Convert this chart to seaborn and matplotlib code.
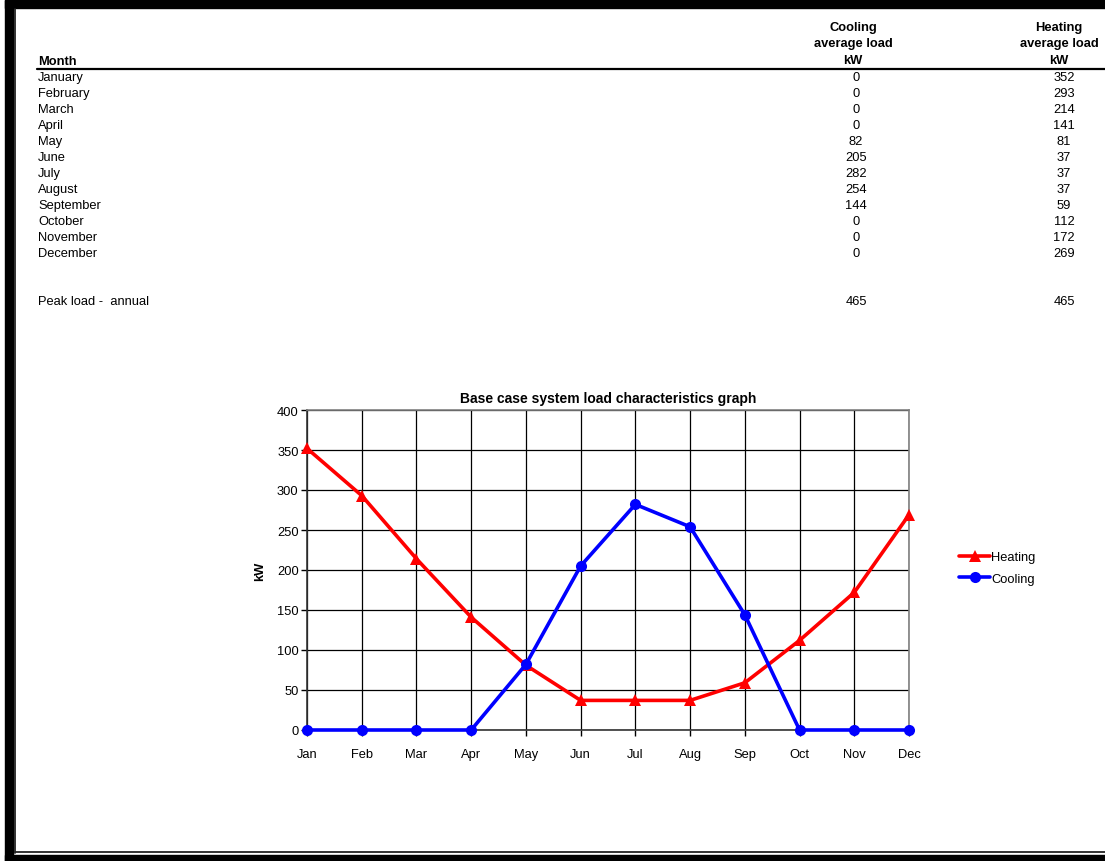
import matplotlib
matplotlib.use("Agg")
import matplotlib.pyplot as plt
from matplotlib.lines import Line2D
from matplotlib.patches import Rectangle
import seaborn as sns
import pandas as pd
import numpy as np

# Monthly load table
months_full = ["January", "February", "March", "April", "May", "June", "July",
               "August", "September", "October", "November", "December"]
months_short = ["Jan", "Feb", "Mar", "Apr", "May", "Jun", "Jul", "Aug", "Sep",
                "Oct", "Nov", "Dec"]
cooling_kw = [0, 0, 0, 0, 82, 205, 282, 254, 144, 0, 0, 0]
heating_kw = [352, 293, 214, 141, 81, 37, 37, 37, 59, 112, 172, 269]
peak_cooling = 465
peak_heating = 465

W, H = 1105, 862
sns.set_theme(style="white")
plt.rcParams["font.family"] = ["Liberation Sans", "DejaVu Sans"]
plt.rcParams["text.color"] = "black"
plt.rcParams["axes.labelcolor"] = "black"
plt.rcParams["xtick.color"] = "black"
plt.rcParams["ytick.color"] = "black"

fig = plt.figure(figsize=(W / 100, H / 100), dpi=100)
fig.patch.set_facecolor("white")


def fx(px):
    return px / W


def fy(py):
    return 1 - py / H


# Window-style frame
frame_ax = fig.add_axes([0, 0, 1, 1], zorder=-1)
frame_ax.set_xlim(0, W)
frame_ax.set_ylim(H, 0)
frame_ax.axis("off")
frame_ax.add_patch(Rectangle((5, 1), W - 5, 8, color="black"))
frame_ax.add_patch(Rectangle((5, 1), 8, H - 1, color="black"))
frame_ax.add_patch(Rectangle((5, 856), W - 5, 6, color="black"))
frame_ax.plot([15, 15], [10, 854], color="#222222", lw=1.3)
frame_ax.plot([15, W], [853.5, 853.5], color="#222222", lw=1.3)
# Header rule
frame_ax.plot([37, W], [70, 70], color="black", lw=1.6)

# Table text
fs = 9.3
cool_x, heat_x = 856, 1064
fig.text(fx(38), fy(62), "Month", fontsize=fs, fontweight="bold", va="center", ha="left")
for i, line in enumerate(["Cooling", "average load", "kW"]):
    fig.text(fx(853), fy(28 + 16.5 * i), line, fontsize=fs, fontweight="bold",
             ha="center", va="center")
for i, line in enumerate(["Heating", "average load", "kW"]):
    fig.text(fx(1059), fy(28 + 16.5 * i), line, fontsize=fs, fontweight="bold",
             ha="center", va="center")
for i, m in enumerate(months_full):
    y = 78 + 16 * i
    fig.text(fx(38), fy(y), m, fontsize=fs, ha="left", va="center")
    fig.text(fx(cool_x), fy(y), str(cooling_kw[i]), fontsize=fs, ha="center", va="center")
    fig.text(fx(heat_x), fy(y), str(heating_kw[i]), fontsize=fs, ha="center", va="center")
fig.text(fx(38), fy(302), "Peak load -  annual", fontsize=fs, ha="left", va="center")
fig.text(fx(cool_x), fy(302), str(peak_cooling), fontsize=fs, ha="center", va="center")
fig.text(fx(heat_x), fy(302), str(peak_heating), fontsize=fs, ha="center", va="center")

# Chart
left, right, top, bottom = 307, 909, 411, 731
ax = fig.add_axes([fx(left), fy(bottom), fx(right - left), (bottom - top) / H])
df = pd.DataFrame({
    "idx": list(range(12)) * 2,
    "kW": heating_kw + cooling_kw,
    "Series": ["Heating"] * 12 + ["Cooling"] * 12,
})
palette = {"Heating": "#ff0000", "Cooling": "#0000ff"}
markers = {"Heating": "^", "Cooling": "o"}
sns.lineplot(data=df, x="idx", y="kW", hue="Series", style="Series",
             palette=palette, markers=markers, dashes=False, lw=2.6,
             markersize=8, markeredgewidth=0, legend=False, ax=ax,
             zorder=3, clip_on=False)

ax.set_xlim(0, 11)
ax.set_ylim(0, 400)
ax.set_xticks(range(12))
ax.set_xticklabels(months_short, fontsize=fs)
ax.set_yticks(np.arange(0, 401, 50))
ax.tick_params(axis="y", labelsize=fs, length=4, width=1, color="black",
               direction="out", pad=2, left=True)
ax.tick_params(axis="x", length=4, width=1, color="black", direction="out",
               pad=9, bottom=True)
ax.grid(True, color="black", lw=0.9)
ax.set_axisbelow(True)
for side in ["top", "right"]:
    ax.spines[side].set_color("#808080")
    ax.spines[side].set_linewidth(1.2)
for side in ["left", "bottom"]:
    ax.spines[side].set_color("#333333")
    ax.spines[side].set_linewidth(1.2)
ax.set_xlabel("")
ax.set_ylabel("kW", fontsize=fs, fontweight="bold", labelpad=8)
ax.set_title("Base case system load characteristics graph", fontsize=10,
             fontweight="bold", pad=6)

handles = [
    Line2D([], [], color="#ff0000", lw=2.6, marker="^", markersize=8, markeredgewidth=0),
    Line2D([], [], color="#0000ff", lw=2.6, marker="o", markersize=8, markeredgewidth=0),
]
fig.legend(handles, ["Heating", "Cooling"], loc="center left",
           bbox_to_anchor=(fx(950), fy(569)), frameon=False, fontsize=fs,
           handlelength=2.4, handletextpad=0.1, labelspacing=0.75,
           borderpad=0.2)

fig.savefig("out.png", dpi=100, facecolor="white")
